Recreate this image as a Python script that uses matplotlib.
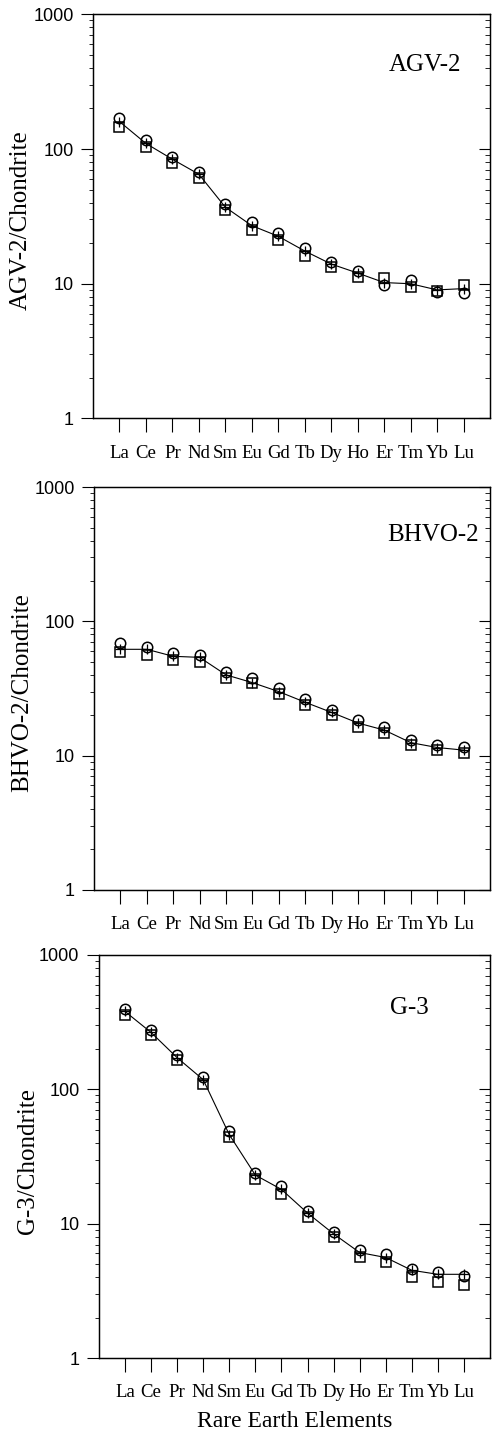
import numpy as np
import matplotlib
matplotlib.use('Agg')
import matplotlib.pyplot as plt
from matplotlib.ticker import LogLocator, NullFormatter, FixedLocator

plt.rcParams['font.family'] = ['Liberation Serif', 'DejaVu Serif']

# 稀土元素
elements = ['La', 'Ce', 'Pr', 'Nd', 'Sm', 'Eu', 'Gd', 'Tb', 'Dy', 'Ho', 'Er', 'Tm', 'Yb', 'Lu']

# AGV-2
agv_circle = [170, 117, 87, 67, 39, 28.5, 23.9, 18.5, 14.5, 12.5, 9.8, 10.7, 8.7, 8.6]
agv_square = [145, 103, 79, 61, 35, 25, 21, 16, 13.4, 11.3, 11, 9.5, 8.9, 9.8]
agv_ref = [160, 110, 84, 65, 37, 27, 22.5, 17.5, 14, 12, 10.2, 10, 9, 9.2]

# BHVO-2
bhvo_circle = [68.6, 65, 58, 56, 42, 37.7, 32, 26.3, 21.9, 18.4, 16.4, 13.1, 12, 11.7]
bhvo_square = [59, 56, 52, 50, 37.7, 34.6, 29, 23.8, 20, 16.4, 14.7, 12, 11, 10.4]
bhvo_ref = [62, 62, 55, 54, 40, 35, 30, 25, 21, 17.5, 15.5, 12.5, 11.5, 11]

# G-3
g3_circle = [398, 278, 179, 124, 49, 24, 19, 12.4, 8.6, 6.4, 5.9, 4.6, 4.4, 4.1]
g3_square = [355, 252, 164, 110, 44, 21.6, 16.7, 11.3, 7.95, 5.65, 5.2, 4.0, 3.7, 3.5]
g3_ref = [380, 265, 172, 118, 46, 23, 18, 12, 8.4, 6.1, 5.6, 4.5, 4.2, 4.2]

panels = [
    ('AGV-2', agv_circle, agv_square, agv_ref, [0.189, 0.708, 0.807, 0.282], (0.836, 0.875)),
    ('BHVO-2', bhvo_circle, bhvo_square, bhvo_ref, [0.191, 0.379, 0.805, 0.281], (0.856, 0.881)),
    ('G-3', g3_circle, g3_square, g3_ref, [0.201, 0.0523, 0.795, 0.2813], (0.795, 0.868)),
]

fig = plt.figure(figsize=(4.92, 14.33), dpi=100)
x = np.arange(1, len(elements) + 1)


def log_ticks(a):
    a.set_yscale('log')
    a.set_ylim(1, 1000)
    a.yaxis.set_major_locator(FixedLocator([1, 10, 100, 1000]))
    a.yaxis.set_minor_locator(LogLocator(base=10, subs=np.arange(2, 10)))
    a.yaxis.set_minor_formatter(NullFormatter())


for i, (name, circ, sq, ref, rect, lpos) in enumerate(panels):
    ax = fig.add_axes(rect)
    ax.plot(x, ref, color='black', lw=0.8, zorder=2)
    ax.plot(x, sq, ls='none', marker='s', ms=7.5, mfc='none', mec='black', mew=1.1, zorder=3)
    ax.plot(x, circ, ls='none', marker='o', ms=7.5, mfc='none', mec='black', mew=1.1, zorder=3)
    ax.plot(x, ref, ls='none', marker='+', ms=7, mec='black', mew=0.9, zorder=4)

    log_ticks(ax)
    ax.set_xlim(0, 15)
    ax.set_yticklabels(['1', '10', '100', '1000'], family=['Liberation Sans', 'DejaVu Sans'], fontsize=13)

    ax.set_xticks(x)
    ax.set_xticklabels(elements, fontsize=13.5)
    ax.tick_params(axis='x', direction='out', length=10, width=0.8, pad=9)
    ax.tick_params(axis='y', which='major', direction='out', length=9, width=0.8, pad=5)
    ax.tick_params(axis='y', which='minor', direction='out', length=3, width=0.6)

    # 右侧刻度朝内
    axr = ax.twinx()
    log_ticks(axr)
    axr.yaxis.set_major_formatter(NullFormatter())
    axr.tick_params(axis='y', which='major', direction='in', length=8, width=0.8)
    axr.tick_params(axis='y', which='minor', direction='in', length=3.5, width=0.6)

    for a in (ax, axr):
        for sp in a.spines.values():
            sp.set_linewidth(0.9)

    ax.set_ylabel(name + '/Chondrite', fontsize=18)
    ax.yaxis.set_label_coords(-0.153, 0.49)
    ax.text(lpos[0], lpos[1], name, transform=ax.transAxes, ha='center', va='center', fontsize=18)

    if i == 2:
        ax.set_xlabel('Rare Earth Elements', fontsize=17, labelpad=7)

fig.savefig('out.png', dpi=100)
